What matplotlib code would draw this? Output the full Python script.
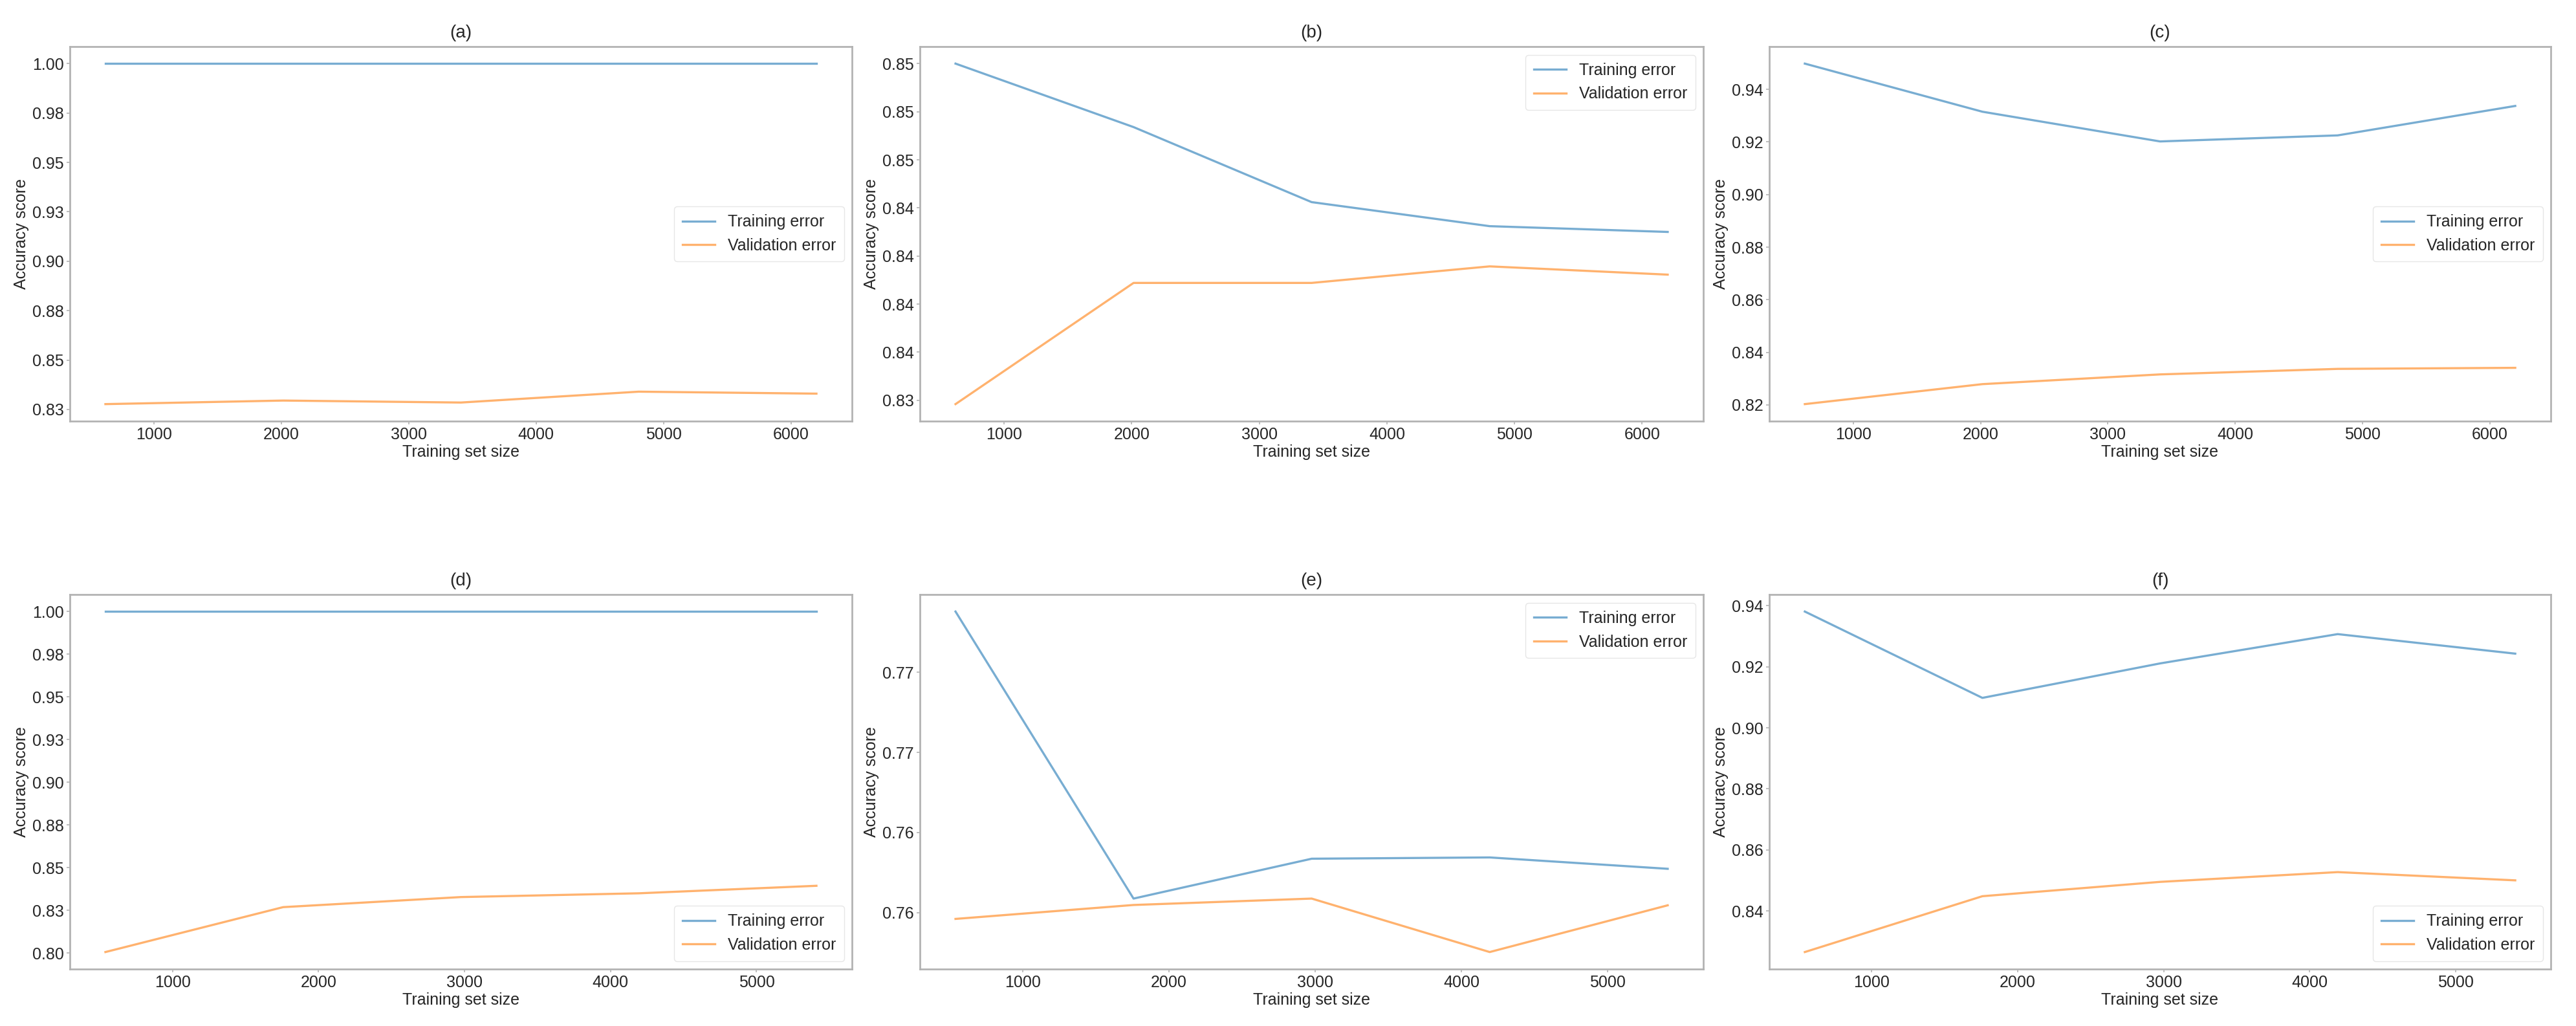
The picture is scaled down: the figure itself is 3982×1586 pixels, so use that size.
import numpy as np
import matplotlib
matplotlib.use("Agg")
import matplotlib.pyplot as plt
from matplotlib.ticker import MultipleLocator, FuncFormatter

plt.rcParams['font.family'] = ['Liberation Sans', 'DejaVu Sans']

# Training set sizes (top row / bottom row)
sizes_top = [620, 2015, 3410, 4805, 6200]
sizes_bottom = [541, 1758, 2976, 4193, 5410]

# Accuracy scores
train_a = [1.0, 1.0, 1.0, 1.0, 1.0]
valid_a = [0.8277, 0.8295, 0.8285, 0.8340, 0.8330]

train_b = [0.8500, 0.8467, 0.8428, 0.84155, 0.84125]
valid_b = [0.8323, 0.8386, 0.8386, 0.83946, 0.83903]

train_c = [0.9498, 0.9315, 0.9202, 0.9225, 0.9337]
valid_c = [0.8203, 0.8279, 0.8316, 0.8337, 0.8341]

train_d = [1.0, 1.0, 1.0, 1.0, 1.0]
valid_d = [0.8006, 0.8269, 0.8328, 0.8350, 0.8394]

train_e = [0.7738, 0.75587, 0.75836, 0.75844, 0.75773]
valid_e = [0.7546, 0.75547, 0.75587, 0.75253, 0.75545]

train_f = [0.9381, 0.9098, 0.9211, 0.9307, 0.9243]
valid_f = [0.8265, 0.8448, 0.8495, 0.8527, 0.8500]

titles = ["(a)", "(b)", "(c)", "(d)", "(e)", "(f)"]
legend_locs = ["center right", "upper right", "center right",
               "lower right", "upper right", "lower right"]
y_steps = [0.025, 0.0025, 0.02, 0.025, 0.005, 0.02]

panels = [
    (sizes_top, train_a, valid_a),
    (sizes_top, train_b, valid_b),
    (sizes_top, train_c, valid_c),
    (sizes_bottom, train_d, valid_d),
    (sizes_bottom, train_e, valid_e),
    (sizes_bottom, train_f, valid_f),
]

W, H = 3982, 1586
fig = plt.figure(figsize=(W / 100, H / 100), dpi=100)

lefts = [108, 1422, 2735]
widths = [1209, 1211, 1208]
tops = [72, 919]
ax_h = 579

text_col = "#262626"
spine_col = "#b3b3b3"


def fmt2(v, pos):
    # round half up to 2 decimals, like the original labels
    return "%.2f" % (np.floor(v * 100 + 0.5 + 1e-6) / 100)


for i, (x, tr, va) in enumerate(panels):
    r, c = divmod(i, 3)
    ax = fig.add_axes([lefts[c] / W, 1 - (tops[r] + ax_h) / H,
                       widths[c] / W, ax_h / H])
    ax.plot(x, tr, color="#1f77b4", alpha=0.6, lw=2.4, label="Training error")
    ax.plot(x, va, color="#ff7f0e", alpha=0.6, lw=2.4, label="Validation error")

    ax.xaxis.set_major_locator(MultipleLocator(1000))
    ax.yaxis.set_major_locator(MultipleLocator(y_steps[i]))
    ax.yaxis.set_major_formatter(FuncFormatter(fmt2))

    ax.set_title(titles[i], fontsize=20, color=text_col, pad=10)
    ax.set_xlabel("Training set size", fontsize=18, color=text_col, labelpad=2)
    ax.set_ylabel("Accuracy score", fontsize=18, color=text_col, labelpad=4)
    ax.tick_params(labelsize=18, colors=spine_col, labelcolor=text_col,
                   length=3.5, width=1.2, pad=3)
    for sp in ax.spines.values():
        sp.set_color(spine_col)
        sp.set_linewidth(2)

    leg = ax.legend(loc=legend_locs[i], fontsize=18, frameon=True,
                    fancybox=True, framealpha=0.8, borderpad=0.5)
    leg.get_frame().set_edgecolor("#e0e0e0")
    for t in leg.get_texts():
        t.set_color(text_col)

fig.savefig("out.png", dpi=100, facecolor="white")
